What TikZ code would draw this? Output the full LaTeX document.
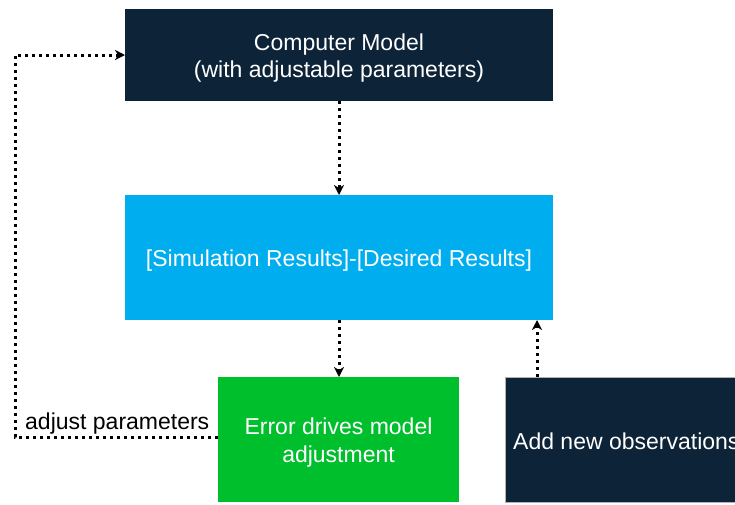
\documentclass[tikz,border=0pt]{standalone}
\usepackage{fontspec}
\setmainfont{Liberation Sans}
\usetikzlibrary{arrows.meta}
\definecolor{navy}{HTML}{0C2338}
\definecolor{skyb}{HTML}{00AEEF}
\definecolor{grn}{HTML}{00BF2C}
\tikzset{
  txt/.style={font=\fontsize{23}{27.5}\selectfont},
  box/.style={anchor=north west, inner sep=0pt, outer sep=0pt},
  boxtext/.style={txt, text=white, align=center, yshift=-3pt},
  conn/.style={line width=3pt, dash pattern=on 3pt off 4pt, -{Stealth[length=10pt,width=10pt,inset=3pt]}},
}
\begin{document}
\begin{tikzpicture}[x=1pt,y=-1pt]
\useasboundingbox (0,0) rectangle (735,504);
\begin{scope}
\clip (0,0) rectangle (735,504);
\node[box, fill=navy, minimum width=428pt, minimum height=92pt] (model) at (125,9) {};
\node[boxtext] (modeltext) at (model.center) {Computer Model\\(with adjustable parameters)};
\node[box, fill=skyb, minimum width=428pt, minimum height=125pt] (diff) at (125,195) {};
\node[boxtext] (difftext) at (diff.center) {[Simulation Results]-[Desired Results]};
\node[box, fill=grn, minimum width=241pt, minimum height=125pt] (err) at (218,377) {};
\node[boxtext] (errtext) at (err.center) {Error drives model\\adjustment};
\node[box, fill=navy, draw=gray!60, line width=0.8pt, minimum width=260pt, minimum height=125pt] (obs) at (505,377) {};
\node[txt, anchor=west, inner sep=0pt, text=white] (obstext) at (513,441) {Add new observations};
\coordinate (c1) at (15,437);
\coordinate (c2) at (15,55);
\draw[conn] (model.south -| 339,0) -- (diff.north -| 339,0);
\draw[conn] (diff.south -| 339,0) -- (err.north -| 339,0);
\draw[conn] (obs.north -| 537,0) -- (diff.south -| 537,0);
\draw[conn] (err.west |- 0,437) -- (c1) -- (c2) -- (model.west |- 0,55);
\node[txt, anchor=west, inner sep=0pt] (lbl) at (25,424) {adjust parameters};
\end{scope}
\end{tikzpicture}
\end{document}
